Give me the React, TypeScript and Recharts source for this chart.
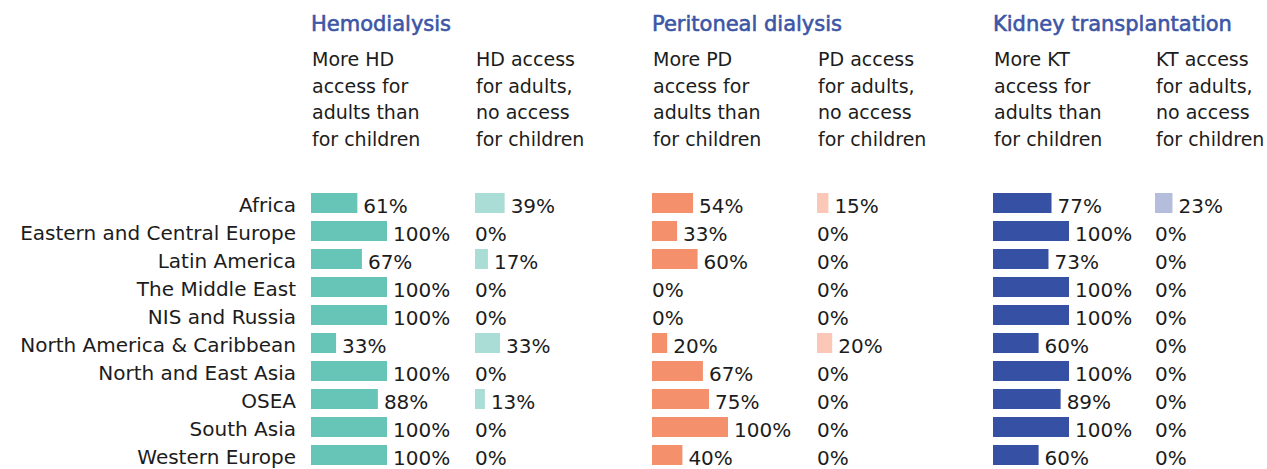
import React from "react";
import { BarChart, Bar, XAxis, YAxis } from "recharts";

const regions = [
  "Africa",
  "Eastern and Central Europe",
  "Latin America",
  "The Middle East",
  "NIS and Russia",
  "North America & Caribbean",
  "North and East Asia",
  "OSEA",
  "South Asia",
  "Western Europe",
];

const hdMore = [61, 100, 67, 100, 100, 33, 100, 88, 100, 100];
const hdOnly = [39, 0, 17, 0, 0, 33, 0, 13, 0, 0];
const pdMore = [54, 33, 60, 0, 0, 20, 67, 75, 100, 40];
const pdOnly = [15, 0, 0, 0, 0, 20, 0, 0, 0, 0];
const ktMore = [77, 100, 73, 100, 100, 60, 100, 89, 100, 60];
const ktOnly = [23, 0, 0, 0, 0, 0, 0, 0, 0, 0];

const groups = ["Hemodialysis", "Peritoneal dialysis", "Kidney transplantation"];
const subHeads = [
  ["More HD", "access for", "adults than", "for children"],
  ["HD access", "for adults,", "no access", "for children"],
  ["More PD", "access for", "adults than", "for children"],
  ["PD access", "for adults,", "no access", "for children"],
  ["More KT", "access for", "adults than", "for children"],
  ["KT access", "for adults,", "no access", "for children"],
];

const data = regions.map((region, i) => ({
  region,
  hdMore: hdMore[i],
  hdOnly: hdOnly[i],
  pdMore: pdMore[i],
  pdOnly: pdOnly[i],
  ktMore: ktMore[i],
  ktOnly: ktOnly[i],
}));

const columns = [
  { key: "hdMore", fill: "#67c5b7", left: 311 },
  { key: "hdOnly", fill: "#a9ddd5", left: 475 },
  { key: "pdMore", fill: "#f5906c", left: 652 },
  { key: "pdOnly", fill: "#fbc7b6", left: 817 },
  { key: "ktMore", fill: "#3650a3", left: 993 },
  { key: "ktOnly", fill: "#b4bddb", left: 1155 },
];

const FONT = "'DejaVu Sans', sans-serif";
const TEXT = "#1c1c1c";
const BLUE = "#3d56a6";
const PLOT = 76;
const RIGHT = 74;

const renderLabel = (props: any) => {
  const { x, y, width, height, value } = props;
  const gap = value > 0 ? 6 : 0;
  return (
    <text
      x={Number(x) + (value > 0 ? Number(width) : 0) + gap}
      y={Number(y) + Number(height) / 2 + 3}
      dominantBaseline="central"
      fontSize={20}
      fill={TEXT}
      fontFamily={FONT}
    >
      {value}%
    </text>
  );
};

const Column = ({ col, first }: { col: any; first: boolean }) => {
  const axisW = first ? col.left : 0;
  return (
    <div style={{ position: "absolute", top: 0, left: first ? 0 : col.left }}>
      <BarChart
        width={axisW + PLOT + RIGHT}
        height={469}
        data={data}
        layout="vertical"
        margin={{ top: 189, right: RIGHT, left: 0, bottom: 0 }}
        barCategoryGap={4}
      >
        <XAxis type="number" domain={[0, 100]} hide />
        <YAxis
          type="category"
          dataKey="region"
          hide={!first}
          width={axisW}
          axisLine={false}
          tickLine={false}
          tickSize={0}
          tickMargin={15}
          interval={0}
          tick={{ fontSize: 20, fill: TEXT, fontFamily: FONT, dy: 2 }}
        />
        <Bar
          dataKey={col.key}
          fill={col.fill}
          barSize={20}
          minPointSize={0.01}
          isAnimationActive={false}
          label={renderLabel}
        />
      </BarChart>
    </div>
  );
};

export default function App() {
  return (
    <div
      style={{
        position: "absolute",
        top: 0,
        left: 0,
        width: 1267,
        height: 469,
        overflow: "hidden",
        background: "#fff",
        fontFamily: FONT,
        color: TEXT,
      }}
    >
      {groups.map((g, i) => (
        <div
          key={g}
          style={{
            position: "absolute",
            top: 12,
            left: columns[i * 2].left,
            fontSize: 21,
            color: BLUE,
            WebkitTextStroke: "0.6px " + BLUE,
            whiteSpace: "nowrap",
          }}
        >
          {g}
        </div>
      ))}
      {subHeads.map((lines, i) => (
        <div
          key={i}
          style={{
            position: "absolute",
            top: 46,
            left: columns[i].left + 1,
            fontSize: 19,
            lineHeight: "26.5px",
            whiteSpace: "nowrap",
          }}
        >
          {lines.map((l) => (
            <div key={l}>{l}</div>
          ))}
        </div>
      ))}
      {columns.map((c, i) => (
        <Column key={c.key} col={c} first={i === 0} />
      ))}
    </div>
  );
}
